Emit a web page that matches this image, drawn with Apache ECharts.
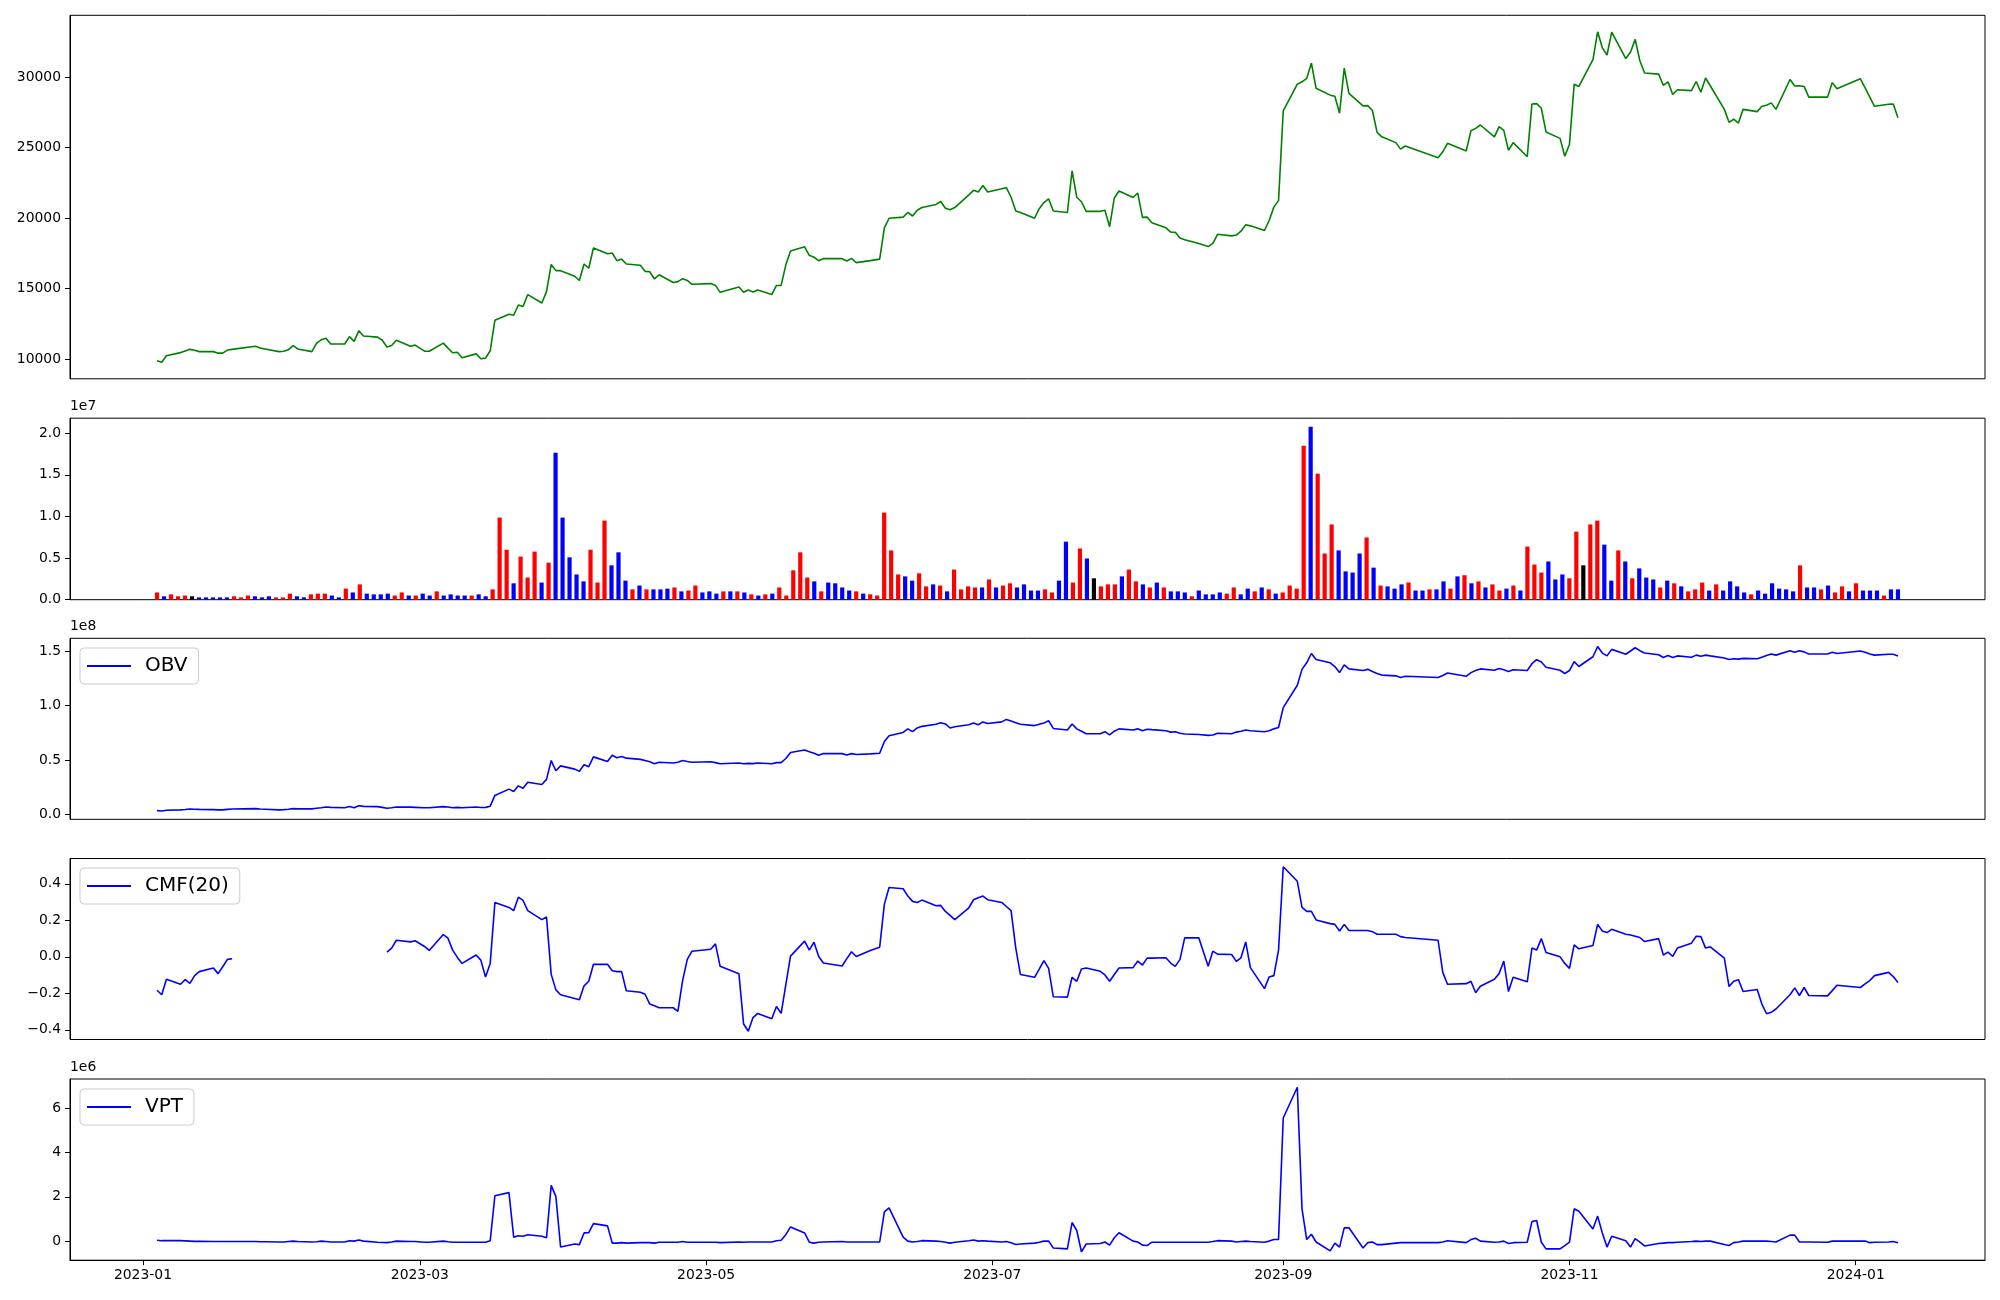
<!DOCTYPE html>
<html><head><meta charset="utf-8">
<script src="https://cdn.jsdelivr.net/npm/echarts/dist/echarts.min.js"></script>
<style>html,body{margin:0;padding:0;background:#fff}#c{width:2000px;height:1300px}</style>
</head><body><div id="c"></div>
<script>
// ---------- DATA ----------
const firstDay = '2023-01-04';
const lastDay = '2024-01-10';
// KRX market holidays on weekdays within the range
const holidays = ['2023-01-23','2023-01-24','2023-03-01','2023-05-01','2023-05-05','2023-05-29',
  '2023-06-06','2023-08-15','2023-09-28','2023-09-29','2023-10-02','2023-10-03','2023-10-09',
  '2023-12-25','2023-12-29','2024-01-01'];

const closePrice = [
  9870, 9760,10220,10450,10570,10680,10620,10520,10520,10410,
 10410,10630,10680,10900,10770,10710,10520,10550,10660,10950,
 10710,10520,11120,11360,11470,11060,11060,11580,11250,11990,
 11630,11550,11330,10850,10960,11330,10900,10980,10550,10550,
 11120,10770,10440,10470,10090,10360,10010,10060,10580,12750,
 13180,13100,13830,13720,14570,13970,14780,16710,16270,16270,
 15870,15570,16740,16440,17880,17470,17520,16980,17090,16740,
 16650,16220,16190,15680,15980,15430,15490,15700,15570,15300,
 15350,15220,14730,15110,14730,14890,14760,14890,14570,15220,
 15220,16680,17660,17960,17360,17220,16980,17120,17120,16950,
 17140,16840,16980,17090,19310,19990,20070,20400,20150,20560,
 20750,20970,21180,20700,20590,20750,21650,21970,21860,22320,
 21860,22080,22160,21480,20510,20400,19990,20670,21100,21370,
 20510,20400,23360,21480,21160,20480,20480,20560,19390,21430,
 21920,21460,21780,20050,20070,19670,19310,19010,18990,18580,
 18470,18200,17980,18200,18850,18740,18800,19070,19530,19450,
 19120,19830,20780,21240,27610,29510,29680,29920,31010,29220,
 28730,28650,27450,30650,28860,27970,27990,27640,26090,25770,
 25360,24900,25120,24280,24710,25310,24770,26200,26370,26610,
 25770,26500,26230,24820,25360,24360,28100,28130,27800,26120,
 25660,24390,25250,29510,29350,31250,33230,32090,31580,33200,
 31330,31770,32690,31170,30300,30220,29430,29680,28780,29110,
 29050,29700,28940,29950,29400,27720,26800,27020,26750,27720,
 27560,27940,28020,28180,27720,29840,29380,29400,29350,28590,
 28590,29620,29190,29890,29240,28590,27940,28080,28100,27130];

// volume in millions of shares
const volumeM = [
 0.87,0.41,0.64,0.41,0.50,0.41,0.28,0.28,0.28,0.28,
 0.28,0.41,0.28,0.50,0.41,0.28,0.41,0.28,0.28,0.73,
 0.41,0.28,0.64,0.73,0.73,0.50,0.28,1.33,0.87,1.84,
 0.73,0.64,0.64,0.73,0.50,0.87,0.50,0.50,0.73,0.50,
 1.00,0.50,0.64,0.50,0.50,0.50,0.64,0.41,1.24,9.86,
 6.00,1.97,5.18,2.66,5.78,2.06,4.45,17.66,9.86,5.09,
 3.03,2.20,6.00,2.06,9.50,4.13,5.69,2.29,1.24,1.70,
 1.24,1.24,1.24,1.33,1.47,1.00,1.10,1.70,0.87,1.00,
 0.73,1.00,1.00,1.00,0.87,0.64,0.50,0.64,0.73,1.47,
 0.50,3.53,5.69,2.66,2.20,1.00,2.06,1.97,1.47,1.10,
 1.00,0.73,0.64,0.50,10.46,5.92,3.03,2.80,2.29,3.17,
 1.60,1.84,1.70,1.00,3.62,1.24,1.60,1.47,1.47,2.43,
 1.47,1.70,1.97,1.47,1.84,1.10,1.10,1.24,0.87,2.29,
 6.97,2.06,6.15,4.95,2.57,1.60,1.84,1.84,2.80,3.62,
 2.20,1.84,1.47,2.06,1.47,1.00,1.00,0.87,0.41,1.10,
 0.64,0.64,0.87,0.73,1.47,0.64,1.33,1.00,1.47,1.24,
 0.73,0.87,1.70,1.33,18.49,20.78,15.14,5.55,9.04,5.92,
 3.40,3.26,5.55,7.48,3.85,1.70,1.60,1.33,1.84,2.06,
 1.10,1.10,1.24,1.24,2.20,1.33,2.80,2.94,1.97,2.20,
 1.47,1.84,1.10,1.33,1.70,1.10,6.38,4.22,3.26,4.59,
 2.43,3.03,2.57,8.17,4.13,9.04,9.50,6.61,2.29,5.92,
 4.59,2.57,3.76,2.66,2.43,1.47,2.29,1.97,1.60,1.00,
 1.24,2.06,1.10,1.84,1.10,2.20,1.60,0.87,0.64,1.10,
 0.73,1.97,1.33,1.24,1.00,4.13,1.47,1.47,1.24,1.70,
 0.87,1.60,1.00,1.97,1.10,1.10,1.10,0.50,1.24,1.24];

// candle direction: 1 = up (red), -1 = down (blue), 0 = doji (black)
const candleDir = [
 1,-1,1,1,1,0,-1,-1,-1,-1,
 -1,1,1,1,-1,-1,-1,1,1,1,
 -1,-1,1,1,1,-1,-1,1,-1,1,
 -1,-1,-1,-1,1,1,-1,1,-1,-1,
 1,-1,-1,-1,-1,1,-1,-1,1,1,
 1,-1,1,1,1,-1,1,-1,-1,-1,
 -1,-1,1,1,1,-1,-1,-1,1,-1,
 1,-1,-1,-1,1,-1,1,1,-1,-1,
 -1,1,-1,1,-1,1,-1,1,-1,1,
 1,1,1,1,-1,1,-1,-1,-1,-1,
 1,-1,1,1,1,1,1,-1,-1,1,
 1,-1,1,-1,1,1,1,1,-1,1,
 -1,1,1,-1,-1,-1,-1,1,1,-1,
 -1,1,1,-1,0,1,1,1,-1,1,
 1,-1,1,-1,1,-1,-1,-1,1,-1,
 -1,-1,-1,1,1,-1,-1,1,-1,1,
 -1,1,1,1,1,-1,1,1,1,-1,
 -1,-1,-1,1,-1,1,-1,-1,-1,1,
 -1,-1,1,-1,-1,1,-1,1,-1,1,
 -1,1,1,-1,1,-1,1,1,1,-1,
 -1,-1,1,1,0,1,1,-1,-1,1,
 -1,1,-1,-1,-1,1,-1,1,-1,1,
 1,1,-1,1,-1,-1,-1,-1,1,-1,
 -1,-1,-1,-1,-1,1,-1,-1,1,-1,
 1,1,-1,1,-1,-1,-1,1,-1,-1];

// OBV in millions
const obvM = [
 3.4,3.0,3.7,4.1,4.4,4.9,4.7,4.5,4.3,4.1,
 4.1,4.5,4.9,5.2,4.9,4.7,4.1,4.3,4.7,5.2,
 5.0,5.0,5.6,6.0,6.7,6.4,6.0,7.1,6.0,7.9,
 7.3,7.1,6.4,5.6,6.0,6.7,6.6,6.4,6.0,6.0,
 7.1,6.7,6.0,6.4,6.0,6.7,6.2,6.4,7.5,17.4,
 23.2,21.0,26.2,24.0,29.6,27.4,32.2,49.5,40.1,44.6,
 41.6,39.7,45.7,43.9,52.9,48.7,54.4,52.1,53.2,51.7,
 50.6,49.5,48.4,46.5,48.0,47.2,48.0,49.5,48.7,48.0,
 48.4,47.6,46.5,47.2,46.5,46.9,46.7,47.2,46.5,47.6,
 47.6,51.4,57.0,59.2,57.7,56.2,54.4,55.9,55.9,54.7,
 55.9,55.1,55.7,56.2,67.1,72.4,75.4,78.7,76.1,79.5,
 81.0,82.9,84.4,83.2,79.5,80.6,82.5,84.0,82.5,85.1,
 83.6,85.1,87.4,85.9,84.4,82.9,81.7,82.9,84.0,86.2,
 79.1,77.6,83.2,78.7,76.5,74.2,74.2,76.1,73.1,76.5,
 78.7,77.6,78.7,76.9,78.4,78.0,76.9,75.7,76.1,74.6,
 73.9,73.5,72.7,73.1,74.6,74.2,75.7,76.5,77.6,76.9,
 76.1,76.9,78.7,79.9,98.2,118.9,133.5,139.5,148.1,142.5,
 139.5,136.1,130.5,137.6,133.9,132.4,133.5,131.6,129.7,128.2,
 127.5,126.0,127.1,126.0,127.9,130.1,127.1,130.5,132.4,133.9,
 132.7,134.2,133.1,131.6,133.1,132.4,138.7,142.5,140.2,135.4,
 132.7,129.7,132.4,140.6,136.1,145.1,154.5,148.5,145.9,151.9,
 147.4,150.4,153.4,150.7,148.5,147.0,144.4,146.2,144.4,145.9,
 144.7,146.6,145.5,146.6,145.9,144.0,142.5,143.2,142.9,143.6,
 143.2,144.7,146.2,147.7,146.6,150.7,149.2,150.7,149.6,147.7,
 147.7,149.2,148.1,150.4,149.2,147.7,146.6,147.4,147.4,145.9];

// CMF(20); null = not defined
const cmf20 = [
 -0.183,-0.208,-0.123,-0.150,-0.125,-0.145,-0.103,-0.081,-0.061,-0.092,
 -0.054,-0.014,-0.010,null,null,null,null,null,null,null,
 null,null,null,null,null,null,null,null,null,null,
 null,null,null,0.026,0.048,0.091,0.082,0.088,0.057,0.035,
 0.122,0.102,0.037,-0.003,-0.036,0.010,-0.018,-0.110,-0.036,0.298,
 0.271,0.253,0.327,0.309,0.253,0.204,0.218,-0.096,-0.181,-0.208,
 -0.228,-0.235,-0.159,-0.134,-0.041,-0.041,-0.076,-0.081,-0.081,-0.186,
 -0.194,-0.205,-0.259,-0.268,-0.279,-0.279,-0.299,-0.130,-0.014,0.031,
 0.042,0.071,-0.052,-0.092,-0.368,-0.408,-0.333,-0.310,-0.339,-0.272,
 -0.310,-0.152,0.004,0.086,0.037,0.080,0.002,-0.034,-0.050,-0.010,
 0.028,0.002,0.035,0.053,0.289,0.380,0.373,0.333,0.304,0.298,
 0.311,0.280,0.282,0.249,0.227,0.204,0.269,0.313,0.324,0.333,
 0.313,0.298,0.276,0.253,0.048,-0.097,-0.112,-0.067,-0.021,-0.063,
 -0.219,-0.221,-0.112,-0.134,-0.067,-0.061,-0.079,-0.099,-0.134,-0.097,
 -0.061,-0.059,-0.023,-0.045,-0.007,-0.007,-0.005,-0.034,-0.052,-0.014,
 0.104,0.104,-0.052,0.031,0.015,0.013,-0.025,-0.005,0.082,-0.059,
 -0.174,-0.110,-0.103,0.037,0.494,0.414,0.271,0.249,0.249,0.202,
 0.182,0.178,0.142,0.178,0.144,0.144,0.144,0.138,0.124,0.124,
 0.124,0.111,0.106,0.091,-0.085,-0.150,-0.147,-0.134,-0.197,-0.161,
 -0.123,-0.092,-0.023,-0.190,-0.112,-0.137,0.048,0.037,0.100,0.024,
 0.000,-0.036,-0.063,0.066,0.044,0.062,0.178,0.142,0.133,0.151,
 0.124,0.120,0.113,0.106,0.084,0.100,0.010,0.026,0.002,0.048,
 0.075,0.113,0.111,0.048,0.055,-0.007,-0.163,-0.134,-0.125,-0.190,
 -0.179,-0.259,-0.312,-0.304,-0.286,-0.208,-0.170,-0.212,-0.168,-0.212,
 -0.214,-0.185,-0.156,-0.168,-0.148,-0.130,-0.103,-0.085,-0.108,-0.141];

// VPT in millions
const vptM = [
 0.04,0.02,0.02,0.02,0.01,0.00,-0.01,-0.01,-0.02,-0.02,
 -0.02,-0.02,-0.02,-0.02,-0.03,-0.03,-0.04,-0.04,-0.02,0.00,
 -0.02,-0.04,-0.03,0.00,-0.02,-0.04,-0.04,0.02,0.00,0.05,
 0.00,-0.05,-0.06,-0.07,-0.04,0.00,-0.02,-0.02,-0.05,-0.05,
 0.00,-0.03,-0.05,-0.05,-0.05,-0.05,-0.05,-0.05,0.02,2.05,
 2.19,0.18,0.24,0.22,0.29,0.22,0.15,2.52,2.01,-0.27,
 -0.13,-0.16,0.37,0.38,0.79,0.69,-0.09,-0.09,-0.07,-0.09,
 -0.07,-0.07,-0.07,-0.09,-0.05,-0.05,-0.05,-0.02,-0.05,-0.05,
 -0.05,-0.05,-0.07,-0.04,-0.05,-0.04,-0.04,-0.04,-0.04,0.02,
 0.04,0.29,0.64,0.37,-0.05,-0.09,-0.05,-0.04,-0.02,-0.04,
 -0.04,-0.04,-0.04,-0.04,1.32,1.50,0.18,0.00,-0.04,-0.02,
 0.02,0.00,-0.02,-0.05,-0.09,-0.05,0.02,0.05,0.00,0.02,
 0.00,-0.04,-0.02,-0.07,-0.15,-0.13,-0.09,-0.05,0.00,0.00,
 -0.31,-0.35,0.84,0.48,-0.49,-0.13,-0.11,-0.04,-0.18,0.15,
 0.38,0.00,-0.04,-0.18,-0.20,-0.05,-0.05,-0.05,-0.05,-0.05,
 -0.05,-0.05,-0.05,-0.02,0.02,0.00,-0.04,-0.02,0.00,-0.02,
 -0.05,0.00,0.07,0.07,5.56,6.95,1.46,0.07,0.31,-0.04,
 -0.44,-0.09,-0.27,0.60,0.60,-0.31,-0.07,-0.04,-0.16,-0.16,
 -0.09,-0.07,-0.07,-0.07,-0.04,0.02,-0.07,0.07,0.13,0.00,
 -0.05,-0.04,0.00,-0.11,-0.07,-0.05,0.88,0.93,-0.05,-0.35,
 -0.35,-0.20,-0.05,1.46,1.35,0.55,1.13,0.37,-0.27,0.22,
 0.02,-0.27,0.11,-0.05,-0.22,-0.11,-0.09,-0.07,-0.07,-0.05,
 -0.02,0.00,-0.02,0.00,0.00,-0.15,-0.20,-0.07,-0.04,0.00,
 0.00,0.00,0.00,-0.02,-0.04,0.27,0.27,-0.04,-0.04,-0.04,
 -0.05,0.00,0.00,0.00,0.00,-0.07,-0.05,-0.04,-0.02,-0.07];

const xTickLabels = ['2023-01','2023-03','2023-05','2023-07','2023-09','2023-11','2024-01'];
const priceTicks = [10000,15000,20000,25000,30000];
const volTicks = [0,5e6,1e7,1.5e7,2e7];
const obvTicks = [0,5e7,1e8,1.5e8];
const cmfTicks = [-0.4,-0.2,0,0.2,0.4];
const vptTicks = [0,2e6,4e6,6e6];

// ---------- BUILD ----------
const DAY = 86400000;
const ts = s => Date.parse(s + 'T00:00:00Z');
const holiSet = new Set(holidays);
const dates = [];
for (let t = ts(firstDay); t <= ts(lastDay); t += DAY) {
  const d = new Date(t), wd = d.getUTCDay();
  const iso = d.toISOString().slice(0, 10);
  if (wd === 0 || wd === 6 || holiSet.has(iso)) continue;
  dates.push(t);
}
if (dates.length !== closePrice.length) console.warn('date count', dates.length);

const span = dates[dates.length - 1] - dates[0];
const xMin = dates[0] - span * 0.05, xMax = dates[dates.length - 1] + span * 0.05;
const nBar = volumeM.length;
const bMin = -(nBar - 1) * 0.05, bMax = (nBar - 1) * 1.05;
const xTickVals = xTickLabels.map(s => ts(s + '-01'));

const FONT = 'DejaVu Sans';
const dirColor = {'1': '#ff0000', '-1': '#0000ff', '0': '#000000'};
const minus = v => (v < 0 ? '\u2212' : '') + Math.abs(v).toFixed(1);

const grids = [
  {left: 70, top: 15.3, width: 1915, height: 363.5},
  {left: 70, top: 418.2, width: 1915, height: 181.5},
  {left: 70, top: 638.3, width: 1915, height: 181},
  {left: 70, top: 858.5, width: 1915, height: 181},
  {left: 70, top: 1079, width: 1915, height: 181.2}
].map(g => Object.assign(g, {show: true, borderColor: '#000', borderWidth: 1, backgroundColor: 'transparent'}));

// date axes are plain value axes holding epoch milliseconds
function hiddenX(gi) {
  return {gridIndex: gi, type: 'value', min: xMin, max: xMax,
    axisLine: {show: false, onZero: false}, axisTick: {show: false}, axisLabel: {show: false}, splitLine: {show: false}};
}
const xAxes = [
  hiddenX(0),
  {gridIndex: 1, type: 'value', min: bMin, max: bMax, show: false, axisLine: {onZero: false}, splitLine: {show: false}},
  hiddenX(2), hiddenX(3),
  {gridIndex: 4, type: 'value', min: xMin, max: xMax, splitLine: {show: false},
    axisLine: {show: true, onZero: false, lineStyle: {color: '#000', width: 1}},
    axisTick: {show: true, length: 5, lineStyle: {color: '#000', width: 1}, customValues: xTickVals},
    axisLabel: {customValues: xTickVals, color: '#000', fontSize: 13.9, fontFamily: FONT, margin: 8,
      formatter: v => { const k = xTickVals.indexOf(v); return k >= 0 ? xTickLabels[k] : ''; }}}
];

function yAx(gi, min, max, ticks, fmt, name) {
  return {gridIndex: gi, type: 'value', min, max, splitLine: {show: false},
    axisLine: {show: true, onZero: false, lineStyle: {color: '#000', width: 1}},
    axisTick: {show: true, length: 5, lineStyle: {color: '#000', width: 1}, customValues: ticks},
    axisLabel: {customValues: ticks, formatter: fmt, color: '#000', fontSize: 13.9, fontFamily: FONT, margin: 9},
    name: name || '', nameLocation: 'end', nameGap: 5,
    nameTextStyle: {align: 'left', verticalAlign: 'bottom', color: '#000', fontSize: 13.9, fontFamily: FONT}};
}
const yAxes = [
  yAx(0, 8590, 34400, priceTicks, v => String(v)),
  yAx(1, 0, 2.18e7, volTicks, v => (v / 1e7).toFixed(1), '1e7'),
  yAx(2, -4.6e6, 162.1e6, obvTicks, v => (v / 1e8).toFixed(1), '1e8'),
  yAx(3, -0.453, 0.539, cmfTicks, minus),
  yAx(4, -0.862e6, 7.322e6, vptTicks, v => (v / 1e6).toFixed(0), '1e6')
];

const lineS = (name, gi, vals, scale, color) => ({
  name, type: 'line', xAxisIndex: gi, yAxisIndex: gi, showSymbol: false, symbol: 'none',
  connectNulls: false, animation: false,
  lineStyle: {color, width: 1.6}, itemStyle: {color},
  data: vals.map((v, i) => [dates[i], v === null ? null : v * scale])
});

const series = [
  lineS('Close', 0, closePrice, 1, '#008000'),
  {name: 'Volume', type: 'bar', xAxisIndex: 1, yAxisIndex: 1, barWidth: 4.2, animation: false,
    data: volumeM.map((v, i) => ({value: [i, v * 1e6], itemStyle: {color: dirColor[String(candleDir[i])]}}))},
  lineS('OBV', 2, obvM, 1e6, '#0000ff'),
  lineS('CMF(20)', 3, cmf20, 1, '#0000ff'),
  lineS('VPT', 4, vptM, 1e6, '#0000ff')
];

const legendBase = {orient: 'horizontal', left: 80, selectedMode: false, icon: 'rect',
  itemWidth: 44, itemHeight: 2, padding: [8, 11, 8, 7],
  borderColor: '#cccccc', borderWidth: 1, borderRadius: 4, backgroundColor: 'rgba(255,255,255,0.8)',
  textStyle: {fontSize: 20, fontFamily: FONT, color: '#000', padding: [0, 0, 0, 9]}};
const legends = [
  Object.assign({}, legendBase, {data: ['OBV'], top: 648}),
  Object.assign({}, legendBase, {data: ['CMF(20)'], top: 868}),
  Object.assign({}, legendBase, {data: ['VPT'], top: 1089})
];

const chart = echarts.init(document.getElementById('c'), null, {renderer: 'canvas'});
chart.setOption({
  animation: false, backgroundColor: '#fff',
  textStyle: {fontFamily: FONT},
  grid: grids, xAxis: xAxes, yAxis: yAxes, legend: legends, series
});
</script>
</body></html>
